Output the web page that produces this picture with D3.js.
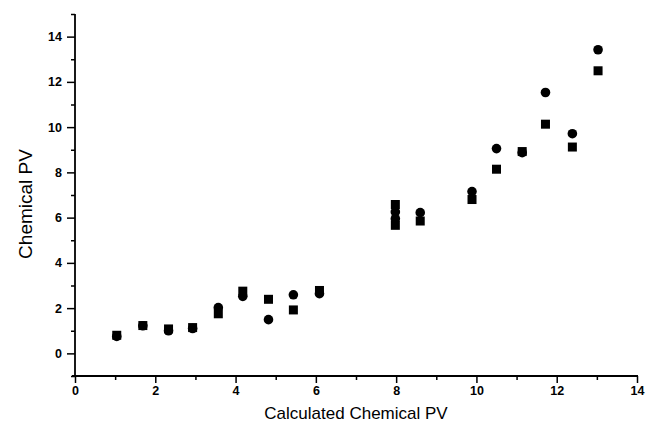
<!DOCTYPE html>
<html>
<head>
<meta charset="utf-8">
<script src="https://d3js.org/d3.v7.min.js"></script>
<style>
  html, body { margin: 0; padding: 0; background: #fff; }
  svg { display: block; }
  .tick text { font-family: "Liberation Sans", Arial, sans-serif; font-weight: bold; font-size: 12.5px; fill: #000; }
  .title { font-family: "Liberation Sans", Arial, sans-serif; font-size: 17px; fill: #000; }
</style>
</head>
<body>
<svg id="chart" width="649" height="432"></svg>
<script>
// Calculated chemical PV (x) for each sample
const calculated = [1.04, 1.69, 2.33, 2.93, 3.57, 4.18, 4.82, 5.44, 6.09, 7.98, 7.98, 8.60, 9.89, 10.50, 11.14, 11.72, 12.39, 13.03];
// Measured chemical PV, first method (circles)
const circleValues = [0.75, 1.22, 1.00, 1.10, 2.02, 2.52, 1.49, 2.59, 2.64, 6.25, 5.95, 6.22, 7.15, 9.05, 8.87, 11.53, 9.71, 13.42];
// Measured chemical PV, second method (squares)
const squareValues = [0.80, 1.23, 1.08, 1.14, 1.75, 2.75, 2.39, 1.92, 2.78, 6.58, 5.66, 5.85, 6.80, 8.14, 8.92, 10.13, 9.12, 12.49];

const xTicks = [0, 2, 4, 6, 8, 10, 12, 14];
const yTicks = [0, 2, 4, 6, 8, 10, 12, 14];
const xMinor = d3.range(1, 14, 2);
const yMinor = [-1, 1, 3, 5, 7, 9, 11, 13, 15];

const svg = d3.select("#chart");
const x = d3.scaleLinear().domain([0, 14]).range([75, 637]);
const y = d3.scaleLinear().domain([-1, 15]).range([376, 14]);

// minor ticks
svg.append("g")
  .attr("transform", `translate(0,${y(-1)})`)
  .call(d3.axisBottom(x).tickValues(xMinor).tickSize(4).tickFormat(""))
  .call(g => g.select(".domain").remove())
  .call(g => g.selectAll("line").attr("stroke", "#000").attr("stroke-width", 1.5));
svg.append("g")
  .attr("transform", `translate(${x(0)},0)`)
  .call(d3.axisLeft(y).tickValues(yMinor).tickSize(4).tickFormat(""))
  .call(g => g.select(".domain").remove())
  .call(g => g.selectAll("line").attr("stroke", "#000").attr("stroke-width", 1.5));

// major ticks with labels
const xAxis = svg.append("g")
  .attr("transform", `translate(0,${y(-1)})`)
  .call(d3.axisBottom(x).tickValues(xTicks).tickSize(7).tickSizeOuter(0).tickPadding(3));
const yAxis = svg.append("g")
  .attr("transform", `translate(${x(0)},0)`)
  .call(d3.axisLeft(y).tickValues(yTicks).tickSize(8).tickSizeOuter(0).tickPadding(5));

[xAxis, yAxis].forEach(a => {
  a.select(".domain").remove();
  a.selectAll("line").attr("stroke", "#000").attr("stroke-width", 1.5);
});

// axis lines
svg.append("line")
  .attr("x1", x(0) - 3).attr("x2", x(14) + 1)
  .attr("y1", y(-1)).attr("y2", y(-1))
  .attr("stroke", "#000").attr("stroke-width", 1.8);
svg.append("line")
  .attr("x1", x(0)).attr("x2", x(0))
  .attr("y1", y(15)).attr("y2", y(-1))
  .attr("stroke", "#000").attr("stroke-width", 1.8);

// data markers
const pts = svg.append("g");
pts.selectAll("rect.sq")
  .data(calculated.map((c, i) => [c, squareValues[i]]))
  .join("rect")
  .attr("class", "sq")
  .attr("x", d => x(d[0]) - 4.5)
  .attr("y", d => y(d[1]) - 4.5)
  .attr("width", 9).attr("height", 9)
  .attr("fill", "#000");
pts.selectAll("circle")
  .data(calculated.map((c, i) => [c, circleValues[i]]))
  .join("circle")
  .attr("cx", d => x(d[0]))
  .attr("cy", d => y(d[1]))
  .attr("r", 4.8)
  .attr("fill", "#000");

// axis titles
svg.append("text").attr("class", "title")
  .attr("x", (x(0) + x(14)) / 2).attr("y", 419)
  .attr("text-anchor", "middle")
  .text("Calculated Chemical PV");
svg.append("text").attr("class", "title")
  .style("font-size", "19px")
  .attr("transform", "translate(32,204) rotate(-90)")
  .attr("text-anchor", "middle")
  .text("Chemical PV");
</script>
</body>
</html>
